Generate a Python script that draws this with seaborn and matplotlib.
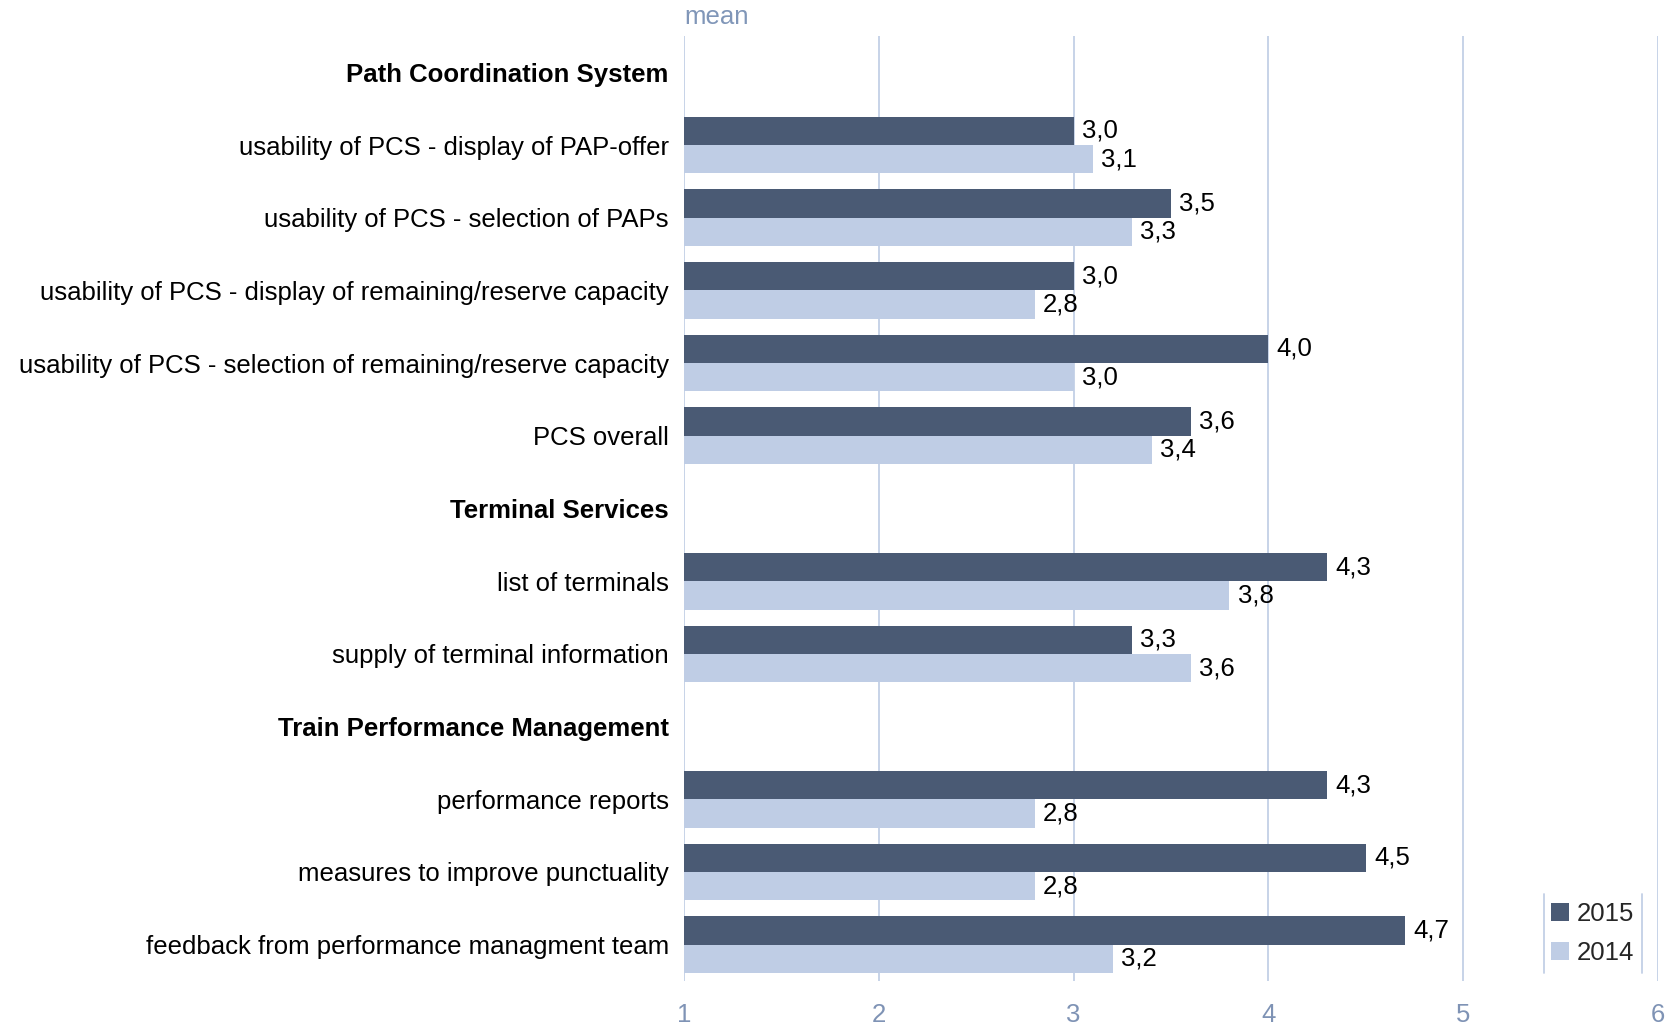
import seaborn as sns
import matplotlib.pyplot as plt
import pandas as pd
import numpy as np
from matplotlib.lines import Line2D

# Row labels (headers carry no values)
rows = [
    "Path Coordination System",
    "usability of PCS - display of PAP-offer",
    "usability of PCS - selection of PAPs",
    "usability of PCS - display of remaining/reserve capacity",
    "usability of PCS - selection of remaining/reserve capacity",
    "PCS overall",
    "Terminal Services",
    "list of terminals",
    "supply of terminal information",
    "Train Performance Management",
    "performance reports",
    "measures to improve punctuality",
    "feedback from performance managment team",
]
headers = ["Path Coordination System", "Terminal Services", "Train Performance Management"]
items = [r for r in rows if r not in headers]

mean_2015 = [3.0, 3.5, 3.0, 4.0, 3.6, 4.3, 3.3, 4.3, 4.5, 4.7]
mean_2014 = [3.1, 3.3, 2.8, 3.0, 3.4, 3.8, 3.6, 2.8, 2.8, 3.2]
years = ["2015", "2014"]
colors = ["#4a5a74", "#bfcde5"]

df = pd.DataFrame({
    "Item": items * 2,
    "Mean": mean_2015 + mean_2014,
    "Year": ["2015"] * len(items) + ["2014"] * len(items),
})

sns.set_style("white")
plt.rcParams["font.family"] = ["Liberation Sans", "DejaVu Sans"]
fs = 18.5

fig = plt.figure(figsize=(16.66, 10.31), dpi=100)
ax = fig.add_axes([0.4106, 0.0485, 0.5846, 0.9166])

sns.barplot(
    data=df, y="Item", x="Mean", hue="Year",
    order=rows, hue_order=years, palette=colors,
    width=0.78, orient="h", ax=ax, saturation=1, errorbar=None,
    linewidth=0, edgecolor="none",
)

ax.set_xlim(1, 6)
ax.set_xticks([1, 2, 3, 4, 5, 6])
ax.grid(axis="x", color="#c3d0e6", linewidth=1.3)
ax.set_axisbelow(True)
for s in ax.spines.values():
    s.set_visible(False)
ax.tick_params(axis="both", length=0)
ax.tick_params(axis="x", labelsize=fs, labelcolor="#7f93b5", pad=16)
ax.tick_params(axis="y", labelsize=fs, labelcolor="black", pad=11)
ax.set_xlabel("")
ax.set_ylabel("")
for lab in ax.get_yticklabels():
    if lab.get_text() in headers:
        lab.set_fontweight("bold")

# value labels with comma decimal
for cont in ax.containers:
    labels = [f"{v:.1f}".replace(".", ",") for v in cont.datavalues]
    ax.bar_label(cont, labels=labels, padding=6, fontsize=fs, color="black")

ax.annotate("mean", xy=(0, 1), xycoords="axes fraction", xytext=(0, 5),
            textcoords="offset points", fontsize=fs, color="#8096b8",
            ha="left", va="bottom")

leg = ax.legend(loc="lower right", bbox_to_anchor=(0.997, -0.005),
                frameon=False, fontsize=fs, handlelength=0.7, handleheight=0.7,
                handletextpad=0.3, labelspacing=0.6, borderpad=0.3)

fig.canvas.draw()
bb = leg.get_window_extent().transformed(fig.transFigure.inverted())
for xx in (bb.x0, bb.x1):
    fig.add_artist(Line2D([xx, xx], [bb.y0, bb.y1], color="#c3d0e6",
                          linewidth=1.3, transform=fig.transFigure))

plt.savefig("out.png", dpi=100)
plt.close()
